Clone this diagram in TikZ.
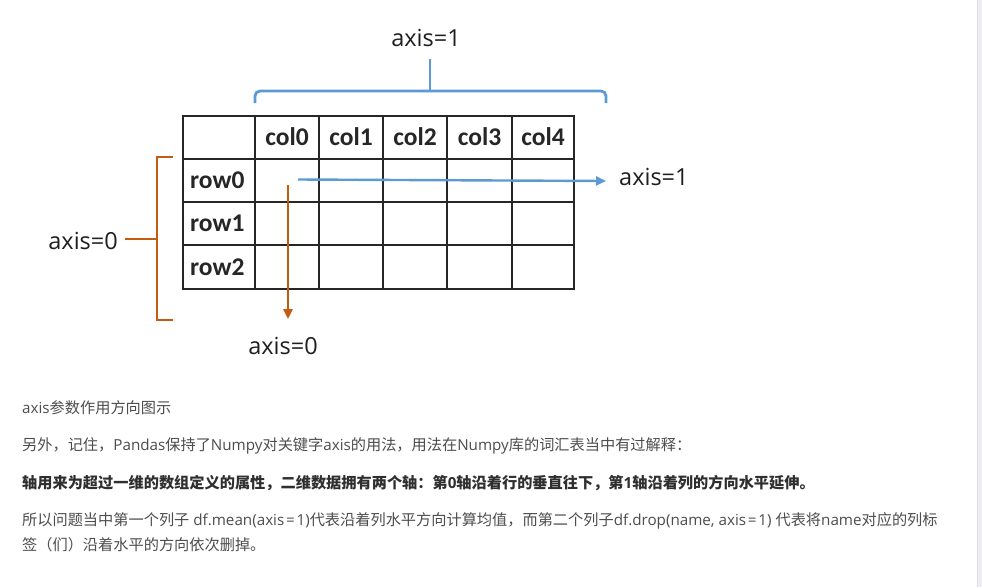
\documentclass[tikz,border=0pt]{standalone}
\usepackage{fontspec}
\setmainfont{Open Sans}
\newfontfamily\cellfont{Carlito}
\newfontfamily\cjk{Noto Sans CJK SC}
\newfontfamily\latn{Open Sans}
\newcommand\lat[1]{{\latn #1}}
\newcommand\wideeq{\hspace{1.8pt}=\hspace{1.8pt}}
\usetikzlibrary{arrows.meta}
\definecolor{axblue}{HTML}{5B9BD5}
\definecolor{axorange}{HTML}{C55A11}
\definecolor{gridcol}{HTML}{262626}
\definecolor{txtgrey}{HTML}{4D4D4D}
\definecolor{txtdark}{HTML}{2F2F2F}
\definecolor{barcol}{HTML}{EEEEF2}
\tikzset{
  gridline/.style={draw=gridcol, line width=1.8pt},
  celltxt/.style={inner sep=0pt, text=gridcol, font=\cellfont\bfseries\fontsize{25.5}{26}\selectfont},
  axlabel/.style={inner sep=0pt, text=black!88, font=\fontsize{23.5}{24}\selectfont},
  bluestroke/.style={draw=axblue, line width=2.8pt},
  orangestroke/.style={draw=axorange, line width=2.8pt},
  bodytxt/.style={inner sep=0pt, anchor=base west, text=txtgrey, font=\cjk\fontsize{15.2}{15}\selectfont},
  boldtxt/.style={bodytxt, text=txtdark, font=\cjk\bfseries\fontsize{15.2}{15}\selectfont},
}
\begin{document}
\begin{tikzpicture}[x=1pt,y=-1pt]
\useasboundingbox (0,0) rectangle (982,587);
\fill[white] (0,0) rectangle (982,587);
\fill[barcol] (977,0) rectangle (982,587);
\draw[draw=black!12, line width=0.6pt] (977,0) -- (977,587);

% table grid
\draw[gridline] (183,116) rectangle (574,289);
\foreach \x in {255,319,383,447,512} \draw[gridline] (\x,116) -- (\x,289);
\foreach \y in {159,202,245} \draw[gridline] (183,\y) -- (574,\y);

% header texts
\node[celltxt] (c0) at (287,137) {col0};
\node[celltxt] (c1) at (351,137) {col1};
\node[celltxt] (c2) at (415,137) {col2};
\node[celltxt] (c3) at (479.5,137) {col3};
\node[celltxt] (c4) at (543,137) {col4};
\node[celltxt, anchor=west] (r0) at (190,180.5) {row0};
\node[celltxt, anchor=west] (r1) at (190,223.5) {row1};
\node[celltxt, anchor=west] (r2) at (190,267) {row2};

% top brace (axis=1)
\coordinate (bl) at (255,103);
\coordinate (br) at (606,103);
\coordinate (bm) at (430,91);
\coordinate (bt) at (430,59);
\draw[bluestroke, rounded corners=5pt] (bl) -- (255,91) -- (606,91) -- (br);
\draw[bluestroke] (bm) -- (bt);
\node[axlabel] (ltop) at (426,38) {axis=1};

% horizontal arrow (axis=1)
\coordinate (hs) at (298,179.5);
\coordinate (he) at (606,181);
\draw[bluestroke, line width=2.4pt, -{Triangle[length=10pt,width=9pt]}] (hs) -- (he);
\node[axlabel, anchor=west] (lright) at (619,177) {axis=1};

% left bracket (axis=0)
\coordinate (ot) at (173,157);
\coordinate (ob) at (173,320);
\coordinate (os) at (125,239);
\coordinate (om) at (157,239);
\draw[orangestroke] (ot) -- (157,157) -- (157,320) -- (ob);
\draw[orangestroke] (os) -- (om);
\node[axlabel, anchor=east] (lleft) at (118,241) {axis=0};

% vertical arrow (axis=0)
\coordinate (vs) at (288,185);
\coordinate (ve) at (288,319);
\draw[orangestroke, line width=2.4pt, -{Triangle[length=10pt,width=9pt]}] (vs) -- (ve);
\node[axlabel] (lbottom) at (283,346) {axis=0};

% body text
\node[bodytxt] (t1) at (22,413.5) {\lat{axis}参数作用方向图示};
\node[bodytxt] (t2) at (22,450.5) {另外，记住，\lat{Pandas}保持了\lat{Numpy}对关键字\lat{axis}的用法，用法在\lat{Numpy}库的词汇表当中有过解释：};
\node[boldtxt] (t3) at (22,488.5) {轴用来为超过一维的数组定义的属性，二维数据拥有两个轴：第\lat{\bfseries 0}轴沿着行的垂直往下，第\lat{\bfseries 1}轴沿着列的方向水平延伸。};
\node[bodytxt] (t4) at (22,525.5) {所以问题当中第一个列子\lat{ df.mean(axis\wideeq 1)}代表沿着列水平方向计算均值，而第二个列子\lat{df.drop(name, axis\wideeq 1) }代表将\lat{name}对应的列标};
\node[bodytxt] (t5) at (22,550.5) {签（们）沿着水平的方向依次删掉。};
\end{tikzpicture}
\end{document}
